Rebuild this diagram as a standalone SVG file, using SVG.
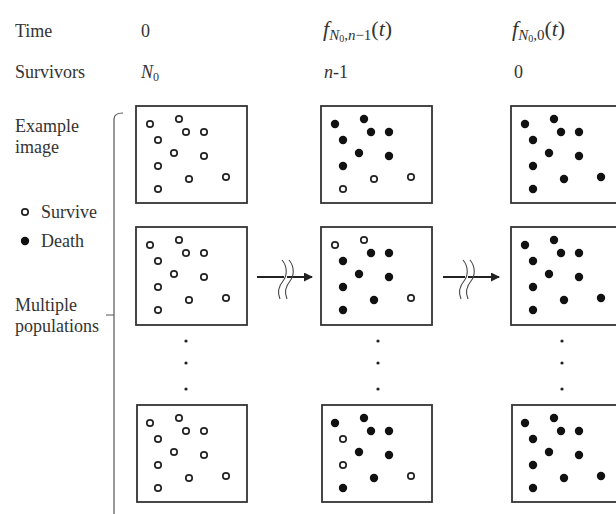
<svg xmlns="http://www.w3.org/2000/svg" width="616" height="514" viewBox="0 0 616 514">
<style>
text{font-family:"Liberation Serif","Times New Roman",serif;fill:#333;font-size:18px}
.mt{font-size:22px}
.box{fill:#fff;stroke:#333;stroke-width:1.8}
.o{fill:#fff;stroke:#222;stroke-width:1.7}
.d{fill:#111}
.sm{fill:#222}
.ln{fill:none;stroke:#222;stroke-width:1.8}
.wv{fill:none;stroke:#444;stroke-width:1.1}
.br{fill:none;stroke:#555;stroke-width:1.2}
.it{font-style:italic}
</style>
<defs>
<circle id="O" r="3.2" class="o"/>
<circle id="D" r="4.2" class="d"/>
<marker id="ah" markerWidth="10" markerHeight="10" refX="8" refY="4.5" orient="auto" markerUnits="userSpaceOnUse">
<path d="M0,0 L9,4.5 L0,9 Z" fill="#222"/>
</marker>
</defs>

<g id="header">
<text x="15" y="37">Time</text>
<text x="15" y="78">Survivors</text>
<text x="141" y="37">0</text>
<text x="141" y="78"><tspan class="it">N</tspan><tspan font-size="12" dy="3">0</tspan></text>
<text class="mt" x="323" y="36"><tspan class="it">f</tspan><tspan class="it" font-size="15" dy="4">N</tspan><tspan font-size="10" dy="2">0</tspan><tspan font-size="15" dy="-2">,</tspan><tspan class="it" font-size="15">n</tspan><tspan font-size="15">−1</tspan><tspan dy="-4">(</tspan><tspan class="it">t</tspan><tspan>)</tspan></text>
<text x="324" y="78"><tspan class="it">n</tspan>-1</text>
<text class="mt" x="512" y="36"><tspan class="it">f</tspan><tspan class="it" font-size="15" dy="4">N</tspan><tspan font-size="10" dy="2">0</tspan><tspan font-size="15" dy="-2">,0</tspan><tspan dy="-4">(</tspan><tspan class="it">t</tspan><tspan>)</tspan></text>
<text x="514" y="78">0</text>
</g>

<g id="labels">
<text x="15" y="132">Example</text>
<text x="15" y="153">image</text>
<use href="#O" x="25" y="212"/>
<text x="41" y="218">Survive</text>
<use href="#D" x="25" y="241"/>
<text x="41" y="247">Death</text>
<text x="15" y="311">Multiple</text>
<text x="15" y="332">populations</text>
<path class="br" d="M123,113 Q114,113 114,119 L114,514 M106,315 L114,315"/>
</g>

<g id="c1r1" transform="translate(136,106)">
<rect class="box" width="111" height="97"/>
<use href="#O" x="14" y="18"/><use href="#O" x="43" y="13"/><use href="#O" x="50" y="26"/><use href="#O" x="68" y="26"/><use href="#O" x="22" y="34"/><use href="#O" x="38" y="47"/><use href="#O" x="68" y="50"/><use href="#O" x="22" y="60"/><use href="#O" x="53" y="73"/><use href="#O" x="90" y="71"/><use href="#O" x="22" y="83"/>
</g>
<g id="c1r2" transform="translate(136,227)">
<rect class="box" width="111" height="98"/>
<use href="#O" x="14" y="18"/><use href="#O" x="43" y="13"/><use href="#O" x="50" y="26"/><use href="#O" x="68" y="26"/><use href="#O" x="22" y="34"/><use href="#O" x="38" y="47"/><use href="#O" x="68" y="50"/><use href="#O" x="22" y="60"/><use href="#O" x="53" y="73"/><use href="#O" x="90" y="71"/><use href="#O" x="22" y="83"/>
</g>
<g id="c1r3" transform="translate(137,405)">
<rect class="box" width="110" height="97"/>
<use href="#O" x="13" y="18"/><use href="#O" x="42" y="13"/><use href="#O" x="49" y="26"/><use href="#O" x="67" y="26"/><use href="#O" x="21" y="34"/><use href="#O" x="37" y="47"/><use href="#O" x="67" y="50"/><use href="#O" x="21" y="60"/><use href="#O" x="52" y="73"/><use href="#O" x="89" y="71"/><use href="#O" x="21" y="83"/>
</g>

<g id="c2r1" transform="translate(321,106)">
<rect class="box" width="111" height="97"/>
<use href="#D" x="14" y="18"/><use href="#D" x="43" y="13"/><use href="#D" x="50" y="26"/><use href="#D" x="68" y="26"/><use href="#D" x="22" y="34"/><use href="#D" x="38" y="47"/><use href="#D" x="68" y="50"/><use href="#D" x="22" y="60"/><use href="#O" x="53" y="73"/><use href="#O" x="90" y="71"/><use href="#O" x="22" y="83"/>
</g>
<g id="c2r2" transform="translate(321,227)">
<rect class="box" width="111" height="98"/>
<use href="#O" x="14" y="18"/><use href="#O" x="43" y="13"/><use href="#D" x="50" y="26"/><use href="#D" x="68" y="26"/><use href="#D" x="22" y="34"/><use href="#D" x="38" y="47"/><use href="#D" x="68" y="50"/><use href="#D" x="22" y="60"/><use href="#D" x="53" y="73"/><use href="#O" x="90" y="71"/><use href="#D" x="22" y="83"/>
</g>
<g id="c2r3" transform="translate(322,405)">
<rect class="box" width="110" height="97"/>
<use href="#D" x="13" y="18"/><use href="#D" x="42" y="13"/><use href="#D" x="49" y="26"/><use href="#D" x="67" y="26"/><use href="#O" x="21" y="34"/><use href="#D" x="37" y="47"/><use href="#D" x="67" y="50"/><use href="#O" x="21" y="60"/><use href="#D" x="52" y="73"/><use href="#O" x="89" y="71"/><use href="#D" x="21" y="83"/>
</g>

<g id="c3r1" transform="translate(511,106)">
<rect class="box" width="111" height="97"/>
<use href="#D" x="14" y="18"/><use href="#D" x="43" y="13"/><use href="#D" x="50" y="26"/><use href="#D" x="68" y="26"/><use href="#D" x="22" y="34"/><use href="#D" x="38" y="47"/><use href="#D" x="68" y="50"/><use href="#D" x="22" y="60"/><use href="#D" x="53" y="73"/><use href="#D" x="90" y="71"/><use href="#D" x="22" y="83"/>
</g>
<g id="c3r2" transform="translate(511,227)">
<rect class="box" width="111" height="98"/>
<use href="#D" x="14" y="18"/><use href="#D" x="43" y="13"/><use href="#D" x="50" y="26"/><use href="#D" x="68" y="26"/><use href="#D" x="22" y="34"/><use href="#D" x="38" y="47"/><use href="#D" x="68" y="50"/><use href="#D" x="22" y="60"/><use href="#D" x="53" y="73"/><use href="#D" x="90" y="71"/><use href="#D" x="22" y="83"/>
</g>
<g id="c3r3" transform="translate(512,405)">
<rect class="box" width="110" height="97"/>
<use href="#D" x="13" y="18"/><use href="#D" x="42" y="13"/><use href="#D" x="49" y="26"/><use href="#D" x="67" y="26"/><use href="#D" x="21" y="34"/><use href="#D" x="37" y="47"/><use href="#D" x="67" y="50"/><use href="#D" x="21" y="60"/><use href="#D" x="52" y="73"/><use href="#D" x="89" y="71"/><use href="#D" x="21" y="83"/>
</g>

<g id="ellipses">
<circle class="sm" cx="186" cy="341" r="1.6"/><circle class="sm" cx="186" cy="363" r="1.6"/><circle class="sm" cx="186" cy="389" r="1.6"/>
<circle class="sm" cx="378" cy="341" r="1.6"/><circle class="sm" cx="378" cy="363" r="1.6"/><circle class="sm" cx="378" cy="389" r="1.6"/>
<circle class="sm" cx="562" cy="341" r="1.6"/><circle class="sm" cx="562" cy="363" r="1.6"/><circle class="sm" cx="562" cy="389" r="1.6"/>
</g>

<g id="connectors">
<path class="ln" d="M257,277 L284,277 M287,277 L312,277" marker-end="url(#ah)"/>
<path class="wv" d="M282,260 C288,267 287,276 283,281 C278,287 277,292 280,299"/>
<path class="wv" d="M289,260 C295,267 294,276 290,281 C285,287 284,292 287,299"/>
<path class="ln" d="M443,277 L465,277 M468,277 L499,277" marker-end="url(#ah)"/>
<path class="wv" d="M463,260 C469,267 468,276 464,281 C459,287 458,292 461,299"/>
<path class="wv" d="M470,260 C476,267 475,276 471,281 C466,287 465,292 468,299"/>
</g>
</svg>
